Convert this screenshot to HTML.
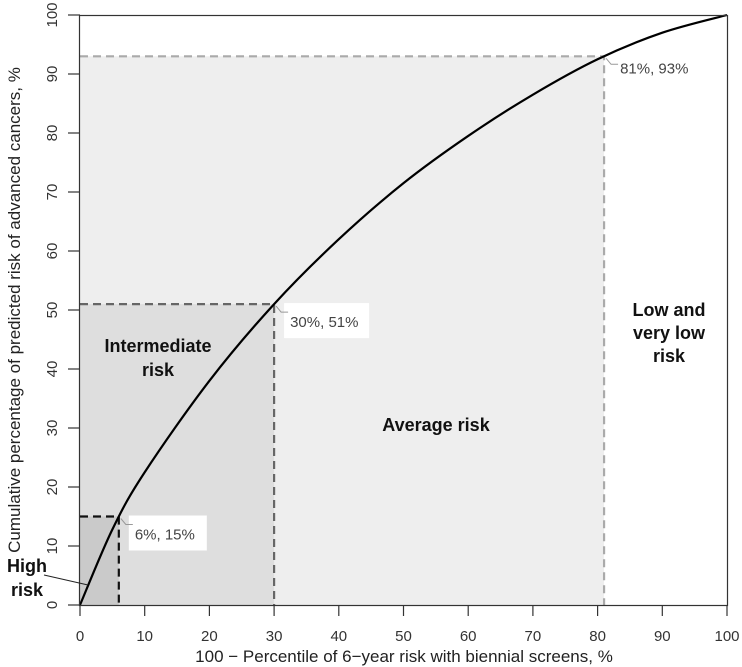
<!DOCTYPE html>
<html><head><meta charset="utf-8"><style>
body{margin:0;background:#fff;}
svg{display:block;font-family:"Liberation Sans",Arial,sans-serif;}
</style></head><body>
<svg id="chart" width="742" height="667" viewBox="0 0 742 667">
<g id="regions"></g><g id="dashes"></g>
<path id="curve" fill="none" stroke="#000" stroke-width="2.2"></path>
<rect x="79.5" y="15.5" width="648" height="590" fill="none" stroke="#333" stroke-width="1.2"/>
<g id="xaxis"></g><g id="yaxis"></g><g id="labels"></g>
<text x="404" y="662" font-size="17" text-anchor="middle" fill="#222">100 − Percentile of 6−year risk with biennial screens, %</text>
<text transform="translate(20,310) rotate(-90)" font-size="17" text-anchor="middle" fill="#222">Cumulative percentage of predicted risk of advanced cancers, %</text>
<g font-weight="bold" font-size="18" fill="#111" text-anchor="middle">
<text x="158" y="352">Intermediate</text>
<text x="158" y="376">risk</text>
<text x="436" y="431">Average risk</text>
<text x="669" y="316">Low and</text>
<text x="669" y="339">very low</text>
<text x="669" y="362">risk</text>
<text x="27" y="572">High</text>
<text x="27" y="596">risk</text>
</g>
<line x1="44" y1="575" x2="88" y2="585" stroke="#222" stroke-width="1"/>
</svg>
<script>
const curveX=[0,5,10,20,30,40,50,60,70,80,90,100];
const curveY=[0,12.8,22.5,38,51,62,71.5,79.5,86.5,92.5,97,100];
const cutX=[81,30,6];
const cutY=[93,51,15];
const cutFill=["#eeeeee","#dedede","#cacaca"];
const cutStroke=["#aaaaaa","#666666","#111111"];
const cutLabels=["81%, 93%","30%, 51%","6%, 15%"];
const xTicks=[0,10,20,30,40,50,60,70,80,90,100];
const yTicks=[0,10,20,30,40,50,60,70,80,90,100];
const NS="http://www.w3.org/2000/svg";
const sx=v=>80+v*6.47, sy=v=>605-v*5.9;
function mk(t,a,p){const e=document.createElementNS(NS,t);for(const k in a)e.setAttribute(k,a[k]);p.appendChild(e);return e;}
const R=document.getElementById('regions'),D=document.getElementById('dashes'),L=document.getElementById('labels');
cutX.forEach((cx,i)=>{
 const r=mk('rect',{x:sx(0),y:sy(cutY[i]),width:sx(cx)-sx(0),height:sy(0)-sy(cutY[i]),fill:cutFill[i]},R);
 
 
 const p=mk('path',{d:`M${sx(0)},${sy(cutY[i])}H${sx(cx)}V${sy(0)}`,fill:'none',stroke:cutStroke[i],'stroke-width':2.2,'stroke-dasharray':'8,5'},D);
 
 
 const tx=sx(cx)+16, ty=sy(cutY[i])+(i==0?12:18);
 if(i>0){const b=mk('rect',{x:tx-6,y:ty-19,width:i==1?85:78,height:35,fill:'#fff'},L);
 
 }
 const ld=mk('path',{d:`M${sx(cx)+2},${sy(cutY[i])+2}l5,6h7`,fill:'none',stroke:'#999','stroke-width':1},L);
 
 
 const t=mk('text',{x:tx,y:ty+5,'font-size':15,fill:'#444'},L);t.textContent=cutLabels[i];
 
 
});
// smooth curve (Catmull-Rom)
const pts=curveX.map((x,i)=>[sx(x),sy(curveY[i])]);
let d=`M${pts[0][0]},${pts[0][1]}`;
for(let i=0;i<pts.length-1;i++){const p0=pts[Math.max(0,i-1)],p1=pts[i],p2=pts[i+1],p3=pts[Math.min(pts.length-1,i+2)];
 d+=`C${p1[0]+(p2[0]-p0[0])/6},${p1[1]+(p2[1]-p0[1])/6} ${p2[0]-(p3[0]-p1[0])/6},${p2[1]-(p3[1]-p1[1])/6} ${p2[0]},${p2[1]}`;}
document.getElementById('curve').setAttribute('d',d);
const X=document.getElementById('xaxis'),Y=document.getElementById('yaxis');
xTicks.forEach(v=>{
 const l=mk('line',{x1:sx(v),x2:sx(v),y1:606,y2:616,stroke:'#333','stroke-width':1.2},X);
 
 
 const t=mk('text',{x:sx(v),y:641,'font-size':15,'text-anchor':'middle',fill:'#333'},X);t.textContent=v;
 
 
});
yTicks.forEach(v=>{
 const l=mk('line',{x1:68,x2:80,y1:sy(v),y2:sy(v),stroke:'#333','stroke-width':1.2},Y);
 
 
 const t=mk('text',{transform:`translate(57,${sy(v)}) rotate(-90)`,'font-size':15,'text-anchor':'middle',fill:'#333'},Y);t.textContent=v;
 
 
});
</script>
</body></html>
